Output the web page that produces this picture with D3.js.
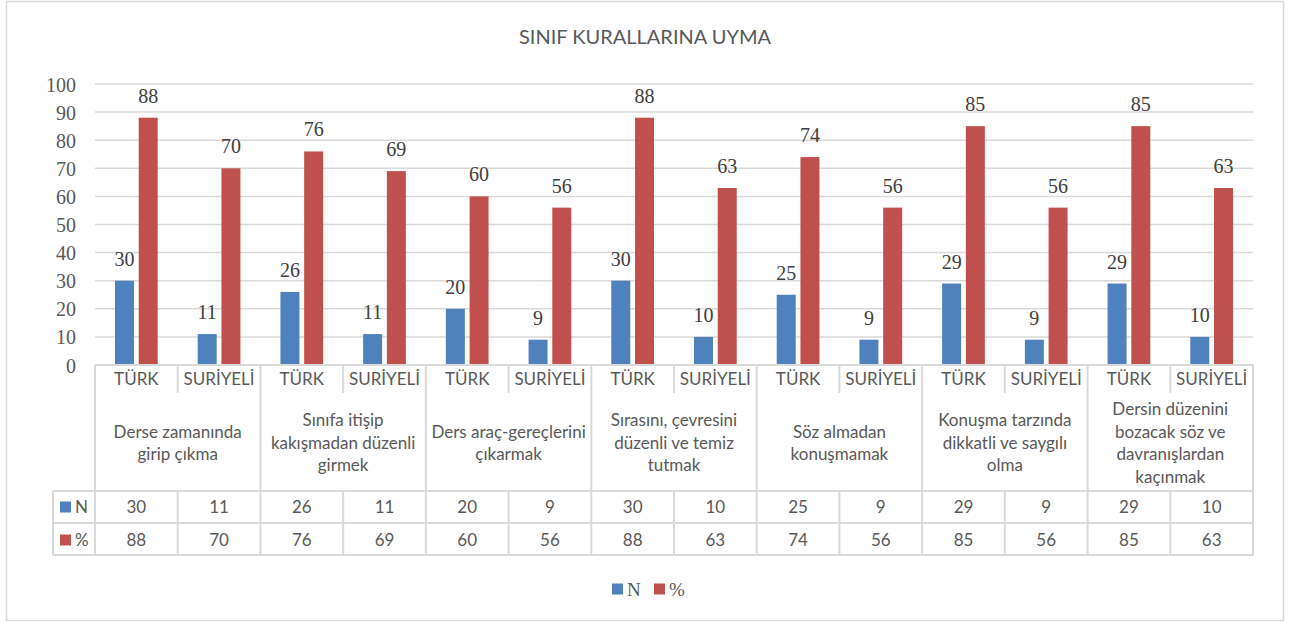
<!DOCTYPE html>
<html>
<head>
<meta charset="utf-8">
<script src="https://cdn.jsdelivr.net/npm/d3@7"></script>
<style>
  body { margin: 0; background: #fff; }
  text { fill: #595959; }
</style>
</head>
<body>
<script>
// Chart data
var title = "SINIF KURALLARINA UYMA";
var groups = [
  ["Derse zamanında", "girip çıkma"],
  ["Sınıfa itişip", "kakışmadan düzenli", "girmek"],
  ["Ders araç-gereçlerini", "çıkarmak"],
  ["Sırasını, çevresini", "düzenli ve temiz", "tutmak"],
  ["Söz almadan", "konuşmamak"],
  ["Konuşma tarzında", "dikkatli ve saygılı", "olma"],
  ["Dersin düzenini", "bozacak söz ve", "davranışlardan", "kaçınmak"]
];
var subGroups = ["TÜRK", "SURİYELİ"];
var seriesNames = ["N", "%"];
var nValues   = [30, 11, 26, 11, 20, 9, 30, 10, 25, 9, 29, 9, 29, 10];
var pctValues = [88, 70, 76, 69, 60, 56, 88, 63, 74, 56, 85, 56, 85, 63];
var yTicks = [0, 10, 20, 30, 40, 50, 60, 70, 80, 90, 100];

var colors = { "N": "#4F81BD", "%": "#C0504D" };
var gridColor = "#D9D9D9";

var width = 1295, height = 623;
var plotLeft = 95, plotRight = 1253, plotTop = 84, plotBottom = 365;

var svg = d3.select("body").append("svg")
  .attr("width", width)
  .attr("height", height);

// outer border
svg.append("rect")
  .attr("x", 6.5).attr("y", 1.5)
  .attr("width", 1277).attr("height", 619)
  .attr("fill", "none")
  .attr("stroke", gridColor)
  .attr("stroke-width", 1.5);

var tableFont = "Lato, 'Open Sans', sans-serif";
var tableSize = "17px";

// title
svg.append("text")
  .attr("x", 645).attr("y", 44)
  .attr("text-anchor", "middle")
  .style("font-family", tableFont)
  .style("font-size", "20px")
  .text(title);

// build columns
var columns = [];
groups.forEach(function (g, gi) {
  subGroups.forEach(function (s, si) {
    var idx = gi * 2 + si;
    columns.push({ id: idx, group: gi, sub: s, N: nValues[idx], "%": pctValues[idx] });
  });
});

var x = d3.scaleBand()
  .domain(columns.map(d => d.id))
  .range([plotLeft, plotRight]);

var xInner = d3.scaleBand()
  .domain(seriesNames)
  .range([20, x.bandwidth() - 20])
  .paddingInner(0.2);

var y = d3.scaleLinear()
  .domain([0, 100])
  .range([plotBottom, plotTop]);

// gridlines
svg.append("g").selectAll("line")
  .data(yTicks.filter(t => t > 0))
  .join("line")
  .attr("x1", plotLeft).attr("x2", plotRight)
  .attr("y1", d => y(d)).attr("y2", d => y(d))
  .attr("stroke", gridColor)
  .attr("stroke-width", 1.5);

// y axis labels
var yAxis = svg.append("g")
  .attr("transform", "translate(" + (plotLeft - 19) + ",0)")
  .call(d3.axisLeft(y).tickValues(yTicks).tickSize(0).tickPadding(0));
yAxis.select(".domain").remove();
yAxis.selectAll("text")
  .attr("fill", "#595959")
  .attr("dy", "0.35em")
  .style("font-family", "'Liberation Serif', serif")
  .style("font-size", "20px");

// bars
var colG = svg.append("g").selectAll("g")
  .data(columns)
  .join("g")
  .attr("transform", d => "translate(" + x(d.id) + ",0)");

seriesNames.forEach(function (s) {
  colG.append("rect")
    .attr("x", xInner(s))
    .attr("width", xInner.bandwidth())
    .attr("y", d => y(d[s]))
    .attr("height", d => y(0) - y(d[s]))
    .attr("fill", colors[s]);
  colG.append("text")
    .attr("x", xInner(s) + xInner.bandwidth() / 2)
    .attr("y", d => y(d[s]) - 15)
    .attr("text-anchor", "middle")
    .style("font-family", "'Liberation Serif', serif")
    .style("font-size", "20px")
    .style("fill", "#404040")
    .text(d => d[s]);
});

// data table
var rowSub = [plotBottom, 393];
var rowN = [491, 523];
var rowP = [523, 555];
var legendLeft = 53;
var tbl = svg.append("g")
  .attr("stroke", gridColor)
  .attr("stroke-width", 2);

// horizontal lines
tbl.append("line").attr("x1", plotLeft).attr("x2", plotRight)
  .attr("y1", plotBottom).attr("y2", plotBottom);
[rowN[0], rowP[0], rowP[1]].forEach(function (yy) {
  tbl.append("line").attr("x1", legendLeft).attr("x2", plotRight)
    .attr("y1", yy).attr("y2", yy);
});
// vertical lines
columns.forEach(function (c) {
  var xx = x(c.id);
  if (c.id % 2 === 0) {
    tbl.append("line").attr("x1", xx).attr("x2", xx)
      .attr("y1", plotBottom).attr("y2", rowP[1]);
  } else {
    tbl.append("line").attr("x1", xx).attr("x2", xx)
      .attr("y1", plotBottom).attr("y2", rowSub[1]);
    tbl.append("line").attr("x1", xx).attr("x2", xx)
      .attr("y1", rowN[0]).attr("y2", rowP[1]);
  }
});
tbl.append("line").attr("x1", plotRight).attr("x2", plotRight)
  .attr("y1", plotBottom).attr("y2", rowP[1]);
tbl.append("line").attr("x1", legendLeft).attr("x2", legendLeft)
  .attr("y1", rowN[0]).attr("y2", rowP[1]);

// sub headers and values
var cellG = svg.append("g").selectAll("g")
  .data(columns)
  .join("g")
  .attr("transform", d => "translate(" + (x(d.id) + x.bandwidth() / 2) + ",0)")
  .style("font-family", tableFont)
  .style("font-size", tableSize)
  .attr("text-anchor", "middle");

cellG.append("text").attr("y", 379).attr("dy", "0.35em").text(d => d.sub);
cellG.append("text").attr("y", 507).attr("dy", "0.35em").text(d => d.N);
cellG.append("text").attr("y", 540).attr("dy", "0.35em").text(d => d["%"]);

// category labels
var lineH = 22.5;
svg.append("g").selectAll("text")
  .data(groups)
  .join("text")
  .attr("x", (d, i) => x(i * 2) + x.bandwidth())
  .attr("text-anchor", "middle")
  .style("font-family", tableFont)
  .style("font-size", tableSize)
  .each(function (lines, i) {
    var cy = 443 - (lines.length - 1) * lineH / 2;
    var t = d3.select(this);
    lines.forEach(function (l, li) {
      t.append("tspan")
        .attr("x", x(i * 2) + x.bandwidth())
        .attr("y", cy + li * lineH)
        .attr("dy", "0.35em")
        .text(l);
    });
  });

// table legend keys
[["N", 507], ["%", 540]].forEach(function (r) {
  var cy = r[1];
  svg.append("rect")
    .attr("x", 60).attr("y", cy - 5.5)
    .attr("width", 11).attr("height", 11)
    .attr("fill", colors[r[0]]);
  svg.append("text")
    .attr("x", 75).attr("y", cy).attr("dy", "0.35em")
    .style("font-family", tableFont)
    .style("font-size", tableSize)
    .text(r[0]);
});

// bottom legend
var legend = svg.append("g").attr("transform", "translate(612,589)");
var lx = 0;
seriesNames.forEach(function (s) {
  legend.append("rect")
    .attr("x", lx).attr("y", -5.5)
    .attr("width", 11).attr("height", 11)
    .attr("fill", colors[s]);
  legend.append("text")
    .attr("x", lx + 15).attr("y", 0).attr("dy", "0.35em")
    .style("font-family", "'Liberation Serif', serif")
    .style("font-size", "19px")
    .text(s);
  lx += 42;
});
</script>
</body>
</html>
